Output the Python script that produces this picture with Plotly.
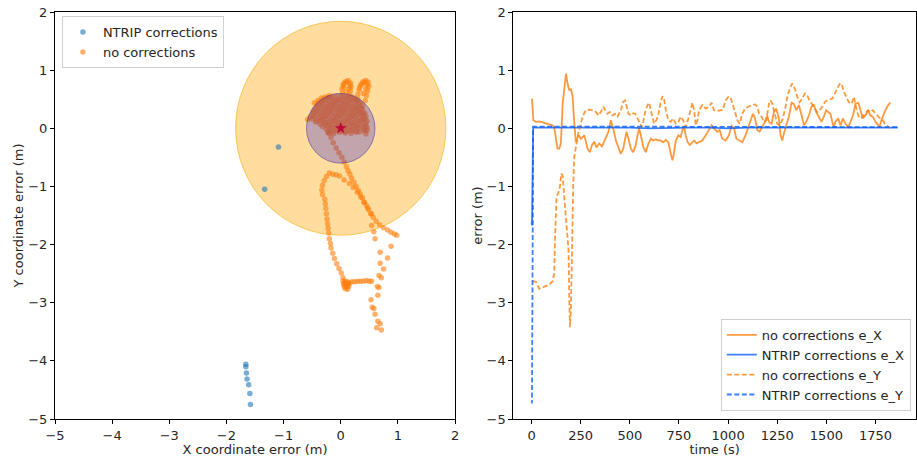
import plotly.graph_objects as go

# ---------------- left panel: position error scatter ----------------
# NTRIP corrections
ntrip_x = [0.00, 0.01, -0.01, 0.02, 0.00, -1.09, -1.33,
           -1.66, -1.66, -1.65, -1.64, -1.61, -1.59, -1.58]
ntrip_y = [0.00, 0.02, 0.01, 0.00, 0.03, -0.32, -1.05,
           -4.06, -4.10, -4.21, -4.31, -4.41, -4.56, -4.75]

# no corrections: dense blob around the origin
blob_x = [-0.22, -0.14, -0.06, 0.02, 0.10, 0.18, 0.24,
          -0.46, -0.40, -0.34, -0.27, -0.20,
          -0.36, -0.28, -0.20, -0.12, -0.04, 0.04, 0.12, 0.20, 0.28, 0.34,
          -0.42, -0.34, -0.26, -0.18, -0.10, -0.02, 0.06, 0.14, 0.22, 0.30, 0.38,
          -0.46, -0.38, -0.30, -0.22, -0.14, -0.06, 0.02, 0.10, 0.18, 0.26, 0.34, 0.42,
          -0.50, -0.42, -0.34, -0.26, -0.18, -0.10, -0.02, 0.06, 0.14, 0.22, 0.30, 0.38, 0.44,
          -0.58, -0.50, -0.42, -0.34, -0.26, -0.18, -0.10, -0.02, 0.06, 0.14, 0.22, 0.30, 0.38, 0.46,
          -0.36, -0.28, -0.20, -0.12, -0.04, 0.04, 0.12, 0.20, 0.28, 0.36, 0.44,
          -0.26, -0.18, -0.10, -0.02, 0.06, 0.14, 0.22, 0.30, 0.40, 0.46,
          -0.22, -0.12, -0.02, 0.08, 0.18, 0.28, 0.44]
blob_y = [0.53, 0.55, 0.56, 0.55, 0.54, 0.55, 0.52,
          0.44, 0.48, 0.52, 0.54, 0.56,
          0.47, 0.48, 0.46, 0.47, 0.48, 0.46, 0.47, 0.48, 0.46, 0.44,
          0.39, 0.40, 0.38, 0.39, 0.40, 0.38, 0.39, 0.40, 0.38, 0.36, 0.33,
          0.31, 0.32, 0.30, 0.31, 0.32, 0.30, 0.31, 0.32, 0.30, 0.31, 0.28, 0.26,
          0.23, 0.24, 0.22, 0.23, 0.24, 0.22, 0.23, 0.24, 0.22, 0.23, 0.24, 0.22, 0.20,
          0.15, 0.16, 0.14, 0.15, 0.16, 0.14, 0.15, 0.16, 0.14, 0.15, 0.16, 0.14, 0.15, 0.12,
          0.07, 0.08, 0.06, 0.07, 0.08, 0.06, 0.07, 0.08, 0.06, 0.07, 0.04,
          -0.01, 0.00, -0.02, -0.01, 0.00, -0.02, -0.01, 0.00, -0.02, -0.04,
          -0.08, -0.09, -0.07, -0.08, -0.09, -0.07, -0.10]

# no corrections: second pass over the blob (offset rows)
blob2_x = [-0.30, -0.22, -0.14, -0.06, 0.02, 0.10, 0.18, 0.26,
           -0.40, -0.32, -0.24, -0.16, -0.08, 0.00, 0.08, 0.16, 0.24, 0.32, 0.38,
           -0.44, -0.36, -0.28, -0.20, -0.12, -0.04, 0.04, 0.12, 0.20, 0.28, 0.36,
           -0.48, -0.40, -0.32, -0.24, -0.16, -0.08, 0.00, 0.08, 0.16, 0.24, 0.32, 0.40,
           -0.54, -0.46, -0.38, -0.30, -0.22, -0.14, -0.06, 0.02, 0.10, 0.18, 0.26, 0.34, 0.42,
           -0.44, -0.36, -0.28, -0.20, -0.12, -0.04, 0.04, 0.12, 0.20, 0.28, 0.36, 0.44,
           -0.32, -0.24, -0.16, -0.08, 0.00, 0.08, 0.16, 0.24, 0.32, 0.40, 0.46,
           -0.22, -0.14, -0.06, 0.02, 0.10, 0.18, 0.26, 0.34, 0.42]
blob2_y = [0.51, 0.52, 0.51, 0.50, 0.51, 0.52, 0.51, 0.49,
           0.43, 0.44, 0.42, 0.43, 0.44, 0.42, 0.43, 0.44, 0.42, 0.41, 0.39,
           0.35, 0.36, 0.34, 0.35, 0.36, 0.34, 0.35, 0.36, 0.34, 0.35, 0.33,
           0.27, 0.28, 0.26, 0.27, 0.28, 0.26, 0.27, 0.28, 0.26, 0.27, 0.28, 0.25,
           0.19, 0.20, 0.18, 0.19, 0.20, 0.18, 0.19, 0.20, 0.18, 0.19, 0.20, 0.18, 0.17,
           0.11, 0.12, 0.10, 0.11, 0.12, 0.10, 0.11, 0.12, 0.10, 0.11, 0.12, 0.09,
           0.03, 0.04, 0.02, 0.03, 0.04, 0.02, 0.03, 0.04, 0.02, 0.03, 0.01,
           -0.05, -0.06, -0.04, -0.05, -0.06, -0.04, -0.05, -0.06, -0.04]

# no corrections: the two loops above the blob
ears_x = [0.03, 0.02, 0.04, 0.08, 0.13, 0.17, 0.18, 0.17, 0.15, 0.10,
          0.05, 0.06, 0.11, 0.16, 0.14,
          0.30, 0.30, 0.32, 0.35, 0.39, 0.44, 0.48, 0.49, 0.47, 0.45, 0.43, 0.40,
          0.33, 0.37, 0.42, 0.46, 0.44]
ears_y = [0.60, 0.67, 0.74, 0.80, 0.82, 0.78, 0.71, 0.64, 0.58, 0.62,
          0.70, 0.77, 0.79, 0.74, 0.68,
          0.50, 0.58, 0.66, 0.74, 0.80, 0.82, 0.79, 0.72, 0.64, 0.56, 0.48, 0.60,
          0.70, 0.77, 0.79, 0.75, 0.68]

# no corrections: trails towards the south
trail_x = [-0.20, -0.17, -0.13, -0.08, -0.03, 0.02, 0.06, 0.10, 0.13, 0.16,
           0.19, 0.23, 0.27, 0.31, 0.34, 0.38, 0.41, 0.45, 0.49, 0.53,
           0.57, 0.62, 0.68, 0.75, 0.82, 0.88, 0.94, 0.98,
           -0.20, -0.14, -0.08, -0.02, 0.06, 0.15, 0.22, 0.29, 0.35, 0.41,
           0.47, 0.53, 0.54, 0.58,
           -0.25, -0.29, -0.32, -0.33, -0.32, -0.28, -0.27, -0.26, -0.25, -0.24,
           -0.23, -0.22, -0.21, -0.20, -0.18, -0.17, -0.14, -0.11, -0.07, -0.03,
           0.01, 0.04,
           0.04, 0.08, 0.12, 0.05, 0.09, 0.13, 0.06, 0.10, 0.14, 0.08,
           0.12, 0.10, 0.07, 0.11, 0.16,
           0.20, 0.25, 0.30, 0.35, 0.40, 0.45, 0.50, 0.54,
           0.60, 0.88, 0.69, 0.82, 0.69, 0.75, 0.67, 0.71, 0.64, 0.67,
           0.65, 0.53, 0.55, 0.58, 0.60, 0.65, 0.69, 0.63, 0.71]
trail_y = [-0.08, -0.16, -0.25, -0.34, -0.42, -0.50, -0.58, -0.66, -0.73, -0.79,
           -0.86, -0.93, -1.00, -1.07, -1.13, -1.20, -1.27, -1.33, -1.40, -1.47,
           -1.53, -1.60, -1.66, -1.71, -1.75, -1.79, -1.82, -1.84,
           -0.77, -0.79, -0.80, -0.82, -0.89, -0.95, -1.02, -1.10, -1.18, -1.27,
           -1.37, -1.47, -1.67, -1.78,
           -0.83, -0.90, -0.98, -1.06, -1.14, -1.22, -1.30, -1.38, -1.47, -1.56,
           -1.64, -1.72, -1.80, -1.90, -1.98, -2.06, -2.15, -2.24, -2.33, -2.41,
           -2.49, -2.57,
           -2.63, -2.63, -2.64, -2.68, -2.68, -2.69, -2.72, -2.73, -2.72, -2.76,
           -2.77, -2.70, -2.66, -2.66, -2.66,
           -2.64, -2.64, -2.63, -2.63, -2.63, -2.62, -2.63, -2.63,
           -1.90, -2.03, -2.13, -2.23, -2.32, -2.42, -2.53, -2.57, -2.72, -2.74,
           -2.87, -2.95, -3.08, -3.10, -3.20, -3.32, -3.36, -3.43, -3.47]

ref_x = [0.0]
ref_y = [0.0]

big_radius = 1.84
small_radius = 0.60

# ---------------- right panel: error vs time ----------------
t_ex_nc = [2, 9, 22, 39, 56, 73, 90, 107, 115, 124,
           132, 141, 149, 158, 166, 175, 183, 192, 200, 209,
           214, 218, 225, 239, 251, 268, 276, 285, 297, 307,
           319, 330, 344, 358, 369, 381, 391, 403, 415, 429,
           442, 454, 466, 476, 483, 493, 505, 517, 530, 539,
           547, 556, 568, 581, 595, 607, 618, 632, 646, 657,
           669, 683, 696, 708, 717, 725, 734, 747, 759, 767,
           776, 784, 793, 805, 818, 827, 839, 852, 869, 886,
           903, 916, 928, 945, 957, 970, 987, 1004, 1018, 1030,
           1042, 1055, 1072, 1089, 1103, 1114, 1126, 1137, 1148, 1160,
           1174, 1187, 1199, 1208, 1221, 1233, 1245, 1258, 1267, 1275,
           1284, 1296, 1309, 1323, 1335, 1347, 1360, 1374, 1386, 1397,
           1411, 1424, 1436, 1448, 1462, 1475, 1487, 1499, 1509, 1521,
           1530, 1538, 1546, 1560, 1572, 1584, 1597, 1611, 1623, 1635,
           1648, 1662, 1674, 1685, 1699, 1712, 1724, 1736, 1750, 1762,
           1770, 1780, 1792, 1804, 1817, 1826]
ex_nc = [0.51, 0.14, 0.11, 0.12, 0.10, 0.08, 0.07, 0.05, 0.02, -0.15,
         -0.35, -0.35, -0.26, 0.42, 0.71, 0.94, 0.77, 0.65, 0.68, 0.54,
         0.25, 0.02, -0.24, -0.12, -0.18, -0.12, -0.23, -0.35, -0.41, -0.29,
         -0.23, -0.33, -0.26, -0.31, -0.23, -0.15, -0.06, 0.14, 0.00, -0.21,
         -0.35, -0.44, -0.35, -0.21, -0.06, -0.18, -0.35, -0.41, -0.29, -0.12,
         0.00, -0.12, -0.32, -0.41, -0.26, -0.18, -0.21, -0.19, -0.21, -0.21,
         -0.24, -0.20, -0.24, -0.44, -0.55, -0.41, -0.21, -0.12, -0.15, -0.03,
         0.02, -0.12, -0.23, -0.29, -0.25, -0.21, -0.26, -0.24, -0.21, -0.12,
         -0.01, 0.05, 0.00, -0.06, -0.03, -0.18, -0.21, -0.12, 0.04, 0.00,
         -0.18, -0.20, -0.24, -0.12, 0.02, 0.17, 0.25, 0.17, -0.03, -0.06,
         0.02, 0.11, 0.22, 0.11, 0.08, 0.28, 0.34, 0.17, -0.12, -0.21,
         -0.09, 0.05, 0.20, 0.44, 0.42, 0.31, 0.40, 0.22, 0.05, 0.11,
         0.22, 0.37, 0.40, 0.28, 0.20, 0.11, 0.20, 0.31, 0.28, 0.25,
         0.11, 0.02, 0.11, 0.17, 0.05, 0.17, 0.08, 0.02, 0.11, 0.22,
         0.42, 0.44, 0.31, 0.17, 0.22, 0.31, 0.22, 0.20, 0.11, 0.05,
         0.02, 0.14, 0.26, 0.34, 0.41, 0.44]

t_ey_nc = [5, 22, 39, 65, 90, 107, 115, 120, 127, 137,
           144, 151, 158, 166, 178, 188, 192, 195, 200, 205,
           212, 217, 225, 239, 251, 259, 276, 293, 310, 327,
           341, 352, 364, 375, 386, 398, 412, 425, 437, 454,
           466, 476, 483, 493, 505, 517, 527, 539, 551, 561,
           568, 578, 590, 598, 607, 615, 623, 635, 646, 657,
           666, 674, 683, 696, 708, 720, 734, 747, 759, 771,
           784, 798, 810, 818, 827, 835, 844, 852, 869, 886,
           903, 916, 928, 945, 962, 974, 987, 1001, 1013, 1025,
           1035, 1047, 1059, 1072, 1086, 1103, 1120, 1137, 1148, 1157,
           1170, 1182, 1194, 1208, 1216, 1225, 1238, 1250, 1262, 1275,
           1289, 1301, 1313, 1326, 1340, 1352, 1364, 1377, 1391, 1402,
           1414, 1428, 1441, 1453, 1465, 1479, 1492, 1504, 1516, 1530,
           1543, 1555, 1567, 1577, 1589, 1601, 1614, 1628, 1640, 1648,
           1662, 1674, 1685, 1699, 1712, 1724, 1736, 1750, 1763, 1775,
           1787, 1797, 1809, 1821]
ey_nc = [-2.63, -2.64, -2.76, -2.73, -2.69, -2.63, -2.50, -1.81, -1.18, -1.10,
         -1.01, -0.78, -0.81, -1.18, -1.76, -2.10, -2.96, -3.42, -3.13, -2.10,
         -0.95, -0.49, -0.32, -0.06, 0.08, 0.20, 0.31, 0.32, 0.31, 0.28,
         0.22, 0.28, 0.37, 0.31, 0.25, 0.28, 0.22, 0.25, 0.20, 0.31,
         0.45, 0.48, 0.37, 0.25, 0.22, 0.26, 0.25, 0.17, 0.08, 0.02,
         0.11, 0.28, 0.40, 0.44, 0.31, 0.17, 0.08, 0.14, 0.25, 0.45,
         0.55, 0.51, 0.31, 0.14, 0.11, 0.17, 0.08, 0.11, 0.20, 0.14,
         0.02, 0.17, 0.34, 0.44, 0.31, 0.05, 0.14, 0.31, 0.40, 0.34,
         0.37, 0.44, 0.31, 0.30, 0.31, 0.32, 0.48, 0.54, 0.53, 0.40,
         0.25, 0.14, 0.08, 0.25, 0.34, 0.37, 0.40, 0.41, 0.37, 0.25,
         0.20, 0.11, 0.14, 0.42, 0.48, 0.42, 0.25, 0.08, 0.05, 0.14,
         0.31, 0.54, 0.68, 0.77, 0.68, 0.54, 0.45, 0.51, 0.60, 0.57,
         0.48, 0.40, 0.34, 0.28, 0.31, 0.37, 0.45, 0.48, 0.49, 0.51,
         0.60, 0.68, 0.76, 0.77, 0.63, 0.54, 0.45, 0.42, 0.54, 0.40,
         0.22, 0.17, 0.20, 0.26, 0.31, 0.28, 0.31, 0.25, 0.20, 0.17,
         0.14, 0.08, 0.05, 0.00]

t_nt = [0, 2, 8, 20, 50, 100, 150, 200, 250, 300, 400, 500, 600, 700,
        800, 900, 1000, 1100, 1200, 1300, 1400, 1500, 1600, 1700, 1800, 1863]
ex_nt = [-1.62, -1.67, 0.01, 0.01, 0.02, 0.01, 0.02, 0.01, 0.01, 0.02, 0.01, 0.01, 0.00,
         0.01, 0.01, 0.01, 0.00, 0.01, 0.01, 0.00, 0.01, 0.01, 0.00, 0.01, 0.01, 0.01]
ey_nt = [-4.70, -4.73, 0.03, 0.03, 0.03, 0.02, 0.03, 0.03, 0.02, 0.03, 0.03, 0.02, 0.03,
         0.03, 0.02, 0.03, 0.03, 0.02, 0.03, 0.03, 0.02, 0.02, 0.03, 0.02, 0.02, 0.02]

time_ticks = [0, 250, 500, 750, 1000, 1250, 1500, 1750]
coord_ticks = [-5, -4, -3, -2, -1, 0, 1, 2]

# ---------------- styles ----------------
ORANGE_PT = "rgba(255,127,14,0.6)"
BLUE_PT = "rgba(31,119,180,0.6)"
ORANGE_LN = "rgba(255,127,14,0.8)"
BLUE_LN = "rgba(10,95,250,0.8)"
TXT = "#262626"
DASH = "5px,2.5px"

fig = go.Figure()

fig.add_trace(go.Scatter(x=ntrip_x, y=ntrip_y, mode="markers", name="NTRIP corrections",
                         marker=dict(size=5.5, color=BLUE_PT, line=dict(width=0)),
                         xaxis="x", yaxis="y", legend="legend"))
fig.add_trace(go.Scatter(x=blob_x + blob2_x + ears_x + trail_x,
                         y=blob_y + blob2_y + ears_y + trail_y,
                         mode="markers", name="no corrections",
                         marker=dict(size=5.5, color=ORANGE_PT, line=dict(width=0)),
                         xaxis="x", yaxis="y", legend="legend"))
fig.add_trace(go.Scatter(x=ref_x, y=ref_y, mode="markers", showlegend=False,
                         marker=dict(symbol="star", size=9, color="red", line=dict(width=0)),
                         xaxis="x", yaxis="y"))

fig.add_trace(go.Scatter(x=t_ex_nc, y=ex_nc, mode="lines", name="no corrections e_X",
                         line=dict(color=ORANGE_LN, width=1.8),
                         xaxis="x2", yaxis="y2", legend="legend2"))
fig.add_trace(go.Scatter(x=t_nt, y=ex_nt, mode="lines", name="NTRIP corrections e_X",
                         line=dict(color=BLUE_LN, width=1.8),
                         xaxis="x2", yaxis="y2", legend="legend2"))
fig.add_trace(go.Scatter(x=t_ey_nc, y=ey_nc, mode="lines", name="no corrections e_Y",
                         line=dict(color=ORANGE_LN, width=1.8, dash=DASH),
                         xaxis="x2", yaxis="y2", legend="legend2"))
fig.add_trace(go.Scatter(x=t_nt, y=ey_nt, mode="lines", name="NTRIP corrections e_Y",
                         line=dict(color=BLUE_LN, width=1.8, dash=DASH),
                         xaxis="x2", yaxis="y2", legend="legend2"))

# circles
fig.add_shape(type="circle", xref="x", yref="y", layer="below",
              x0=-big_radius, y0=-big_radius, x1=big_radius, y1=big_radius,
              fillcolor="rgba(255,165,0,0.38)", line=dict(color="rgba(255,165,0,0.55)", width=1))
fig.add_shape(type="circle", xref="x", yref="y", layer="above",
              x0=-small_radius, y0=-small_radius, x1=small_radius, y1=small_radius,
              fillcolor="rgba(30,10,210,0.27)", line=dict(color="rgba(60,40,160,0.5)", width=1))

axis_common = dict(showline=True, linecolor="black", linewidth=1, mirror=True,
                   ticks="outside", ticklen=4, tickwidth=1, tickcolor="black",
                   showgrid=False, zeroline=False, tickfont=dict(size=13, color=TXT),
                   title_font=dict(size=13, color=TXT), automargin=False)

fig.update_layout(
    width=917, height=457,
    margin=dict(l=55, r=1, t=12, b=38),
    plot_bgcolor="white", paper_bgcolor="white",
    font=dict(family="DejaVu Sans", size=13, color=TXT),
    xaxis=dict(domain=[0, 0.4646], range=[-5, 2], tickvals=coord_ticks, anchor="y",
               title=dict(text="X coordinate error (m)", standoff=3), **axis_common),
    yaxis=dict(domain=[0, 1], range=[-5, 2], tickvals=coord_ticks, anchor="x",
               title=dict(text="Y coordinate error (m)", standoff=1), **axis_common),
    xaxis2=dict(domain=[0.5323, 1], range=[-93, 1956], tickvals=time_ticks, anchor="y2",
                title=dict(text="time (s)", standoff=3), **axis_common),
    yaxis2=dict(domain=[0, 1], range=[-5, 2], tickvals=coord_ticks, anchor="x2",
                title=dict(text="error (m)", standoff=0), **axis_common),
    legend=dict(x=0.008, y=0.99, xanchor="left", yanchor="top",
                bgcolor="rgba(255,255,255,0.8)", bordercolor="#d0d0d0", borderwidth=1,
                font=dict(size=13, color=TXT), tracegroupgap=0),
    legend2=dict(x=0.994, y=0.02, xanchor="right", yanchor="bottom",
                 bgcolor="rgba(255,255,255,0.8)", bordercolor="#d0d0d0", borderwidth=1,
                 font=dict(size=13, color=TXT), tracegroupgap=0),
)

fig.write_html("out.html", config={"displayModeBar": False},
               post_script="document.body.style.margin='0px';document.body.style.overflow='hidden';")
